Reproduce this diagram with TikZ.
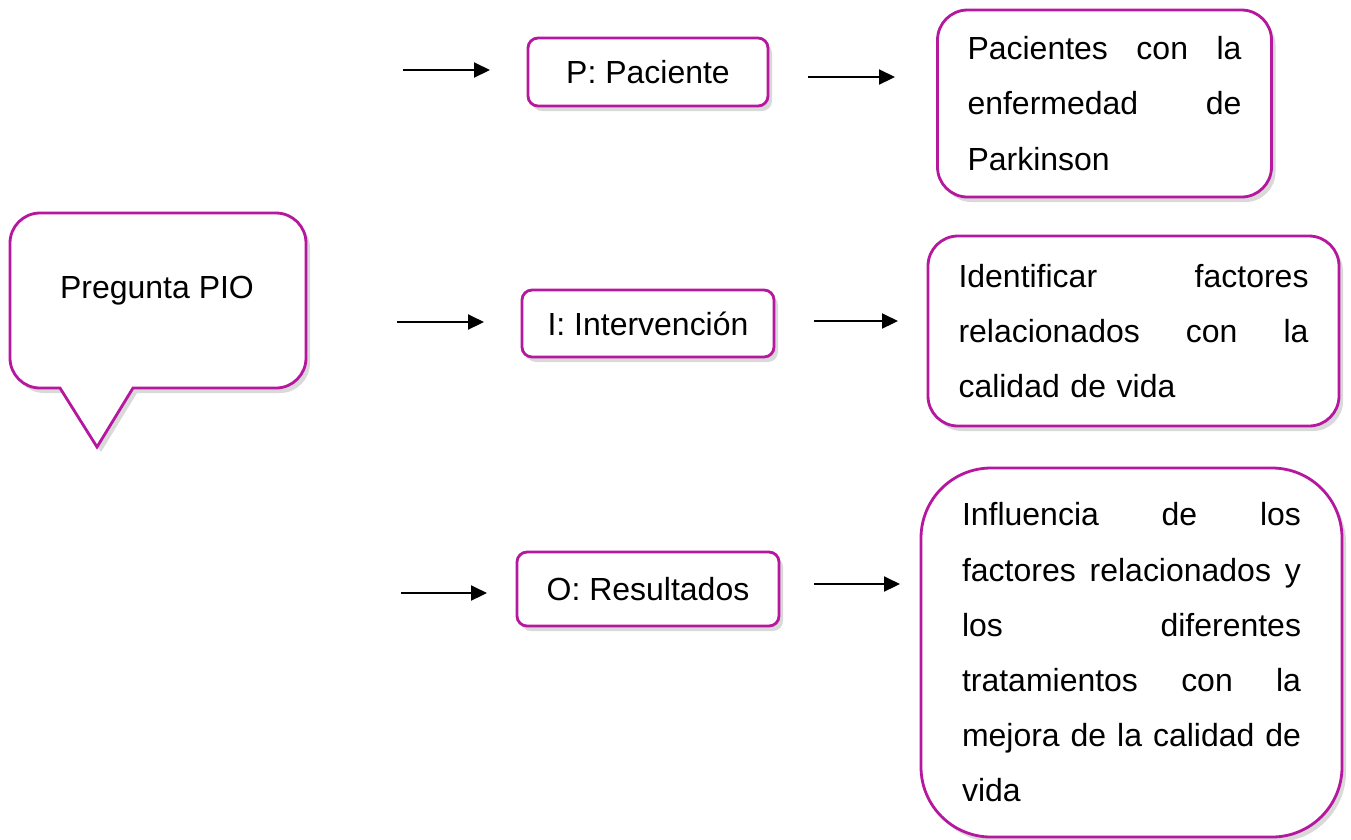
\documentclass[tikz,border=0pt]{standalone}
\usepackage{fontspec}
\setmainfont{Liberation Sans}
\usepackage{tikz}
\usetikzlibrary{shadows}
\usetikzlibrary{arrows.meta}
\definecolor{pioborde}{RGB}{181,23,158}

\begin{document}
\begin{tikzpicture}[every node/.style={font=\fontsize{9.1}{15.7}\selectfont},
  borde/.style={draw=pioborde, line width=0.8pt, fill=white, drop shadow={shadow xshift=0.04cm, shadow yshift=-0.05cm, opacity=0.3}},
  caja/.style={borde, rounded corners=0.1cm},
  cajatexto/.style={borde, align=left, inner ysep=0pt},
  flecha/.style={line width=0.6pt, -{Triangle[length=0.16cm,width=0.15cm]}}]
\useasboundingbox (0,0) rectangle (13.51,-8.39);
\draw[borde] (0.60,-3.88) -- (0.97,-4.47) -- (1.33,-3.88) -- (2.76,-3.88) arc[start angle=270, end angle=360, radius=0.3cm] -- (3.06,-2.43) arc[start angle=0, end angle=90, radius=0.3cm] -- (0.40,-2.13) arc[start angle=90, end angle=180, radius=0.3cm] -- (0.10,-3.58) arc[start angle=180, end angle=270, radius=0.3cm] -- cycle;
\node (pio) at (1.57,-2.91) {Pregunta PIO};
\node[caja, minimum width=2.40cm, minimum height=0.68cm] (pac) at (6.48,-0.72) {P: Paciente};
\node[caja, minimum width=2.52cm, minimum height=0.67cm] (int) at (6.48,-3.235) {I: Intervención};
\node[caja, minimum width=2.62cm, minimum height=0.74cm] (res) at (6.48,-5.89) {O: Resultados};
\node[cajatexto, rounded corners=0.3cm, text width=2.74cm, inner xsep=0.30cm, minimum height=1.87cm] (pacdesc) at (11.045,-1.035) {Pacientes\hfill con\hfill la\\ enfermedad\hfill de\\ Parkinson};
\node[cajatexto, rounded corners=0.3cm, text width=3.50cm, inner xsep=0.305cm, minimum height=1.90cm] (intdesc) at (11.335,-3.31) {Identificar\hfill factores\\ relacionados\hfill con\hfill la\\ calidad de vida};
\node[cajatexto, rounded corners=0.7cm, text width=3.39cm, inner xsep=0.41cm, minimum height=3.69cm] (resdesc) at (11.315,-6.525) {Influencia\hfill de\hfill los\\ factores\hfill relacionados\hfill y\\ los\hfill diferentes\\ tratamientos\hfill con\hfill la\\ mejora\hfill de\hfill la\hfill calidad\hfill de\\ vida};
\coordinate (pa) at (4.03,-0.70);
\coordinate (pb) at (4.90,-0.70);
\coordinate (pc) at (8.08,-0.77);
\coordinate (pd) at (8.95,-0.77);
\coordinate (ia) at (3.97,-3.22);
\coordinate (ib) at (4.84,-3.22);
\coordinate (ic) at (8.14,-3.21);
\coordinate (id) at (8.98,-3.21);
\coordinate (ra) at (4.01,-5.93);
\coordinate (rb) at (4.87,-5.93);
\coordinate (rc) at (8.14,-5.84);
\coordinate (rd) at (9.00,-5.84);
\draw[flecha] (pa) -- (pb);
\draw[flecha] (pc) -- (pd);
\draw[flecha] (ia) -- (ib);
\draw[flecha] (ic) -- (id);
\draw[flecha] (ra) -- (rb);
\draw[flecha] (rc) -- (rd);
\end{tikzpicture}
\end{document}
